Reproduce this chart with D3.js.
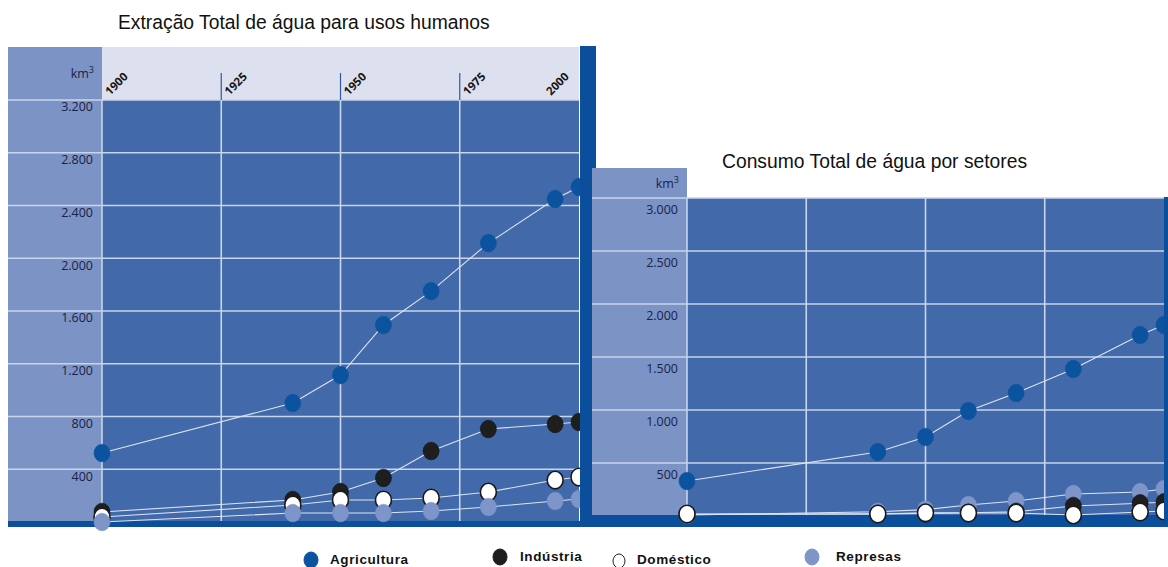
<!DOCTYPE html>
<html><head><meta charset="utf-8">
<script src="https://cdn.jsdelivr.net/npm/d3@7/dist/d3.min.js"></script>
<style>
html,body{margin:0;padding:0;background:#fff;}
svg{display:block;}
</style></head>
<body>
<svg id="c" width="1168" height="567"></svg>
<script>
// ---------- DATA ----------
const years = [1900, 1940, 1950, 1959, 1969, 1981, 1995, 2000];
const xTicks = [1900, 1925, 1950, 1975, 2000];

// Extração total (km3)
const extAgricultura = [523, 902, 1114, 1494, 1751, 2115, 2449, 2540];
const extIndustria   = [76, 167, 227, 334, 538, 705, 743, 758];
const extDomestico   = [38, 129, 167, 167, 182, 227, 318, 341];
const extRepresas    = [0, 68, 68, 68, 83, 114, 159, 174];
const extTicks = [400, 800, 1200, 1600, 2000, 2400, 2800, 3200];

// Consumo total (km3)
const conAgricultura = [330, 604, 745, 991, 1160, 1387, 1708, 1802];
const conIndustria   = [15, 20, 25, 30, 40, 95, 120, 130];
const conDomestico   = [19, 19, 30, 28, 28, 10, 38, 47];
const conRepresas    = [10, 40, 60, 104, 142, 208, 226, 255];
const conTicks = [500, 1000, 1500, 2000, 2500, 3000];

const seriesNames = ["Agricultura", "Indústria", "Doméstico", "Represas"];
const titles = ["Extração Total de água para usos humanos", "Consumo Total de água por setores"];

// ---------- STYLE ----------
const C = {
  plot: "#4269a9", panel: "#7b93c5", header: "#dde0ee", dark: "#0b4f9c",
  grid: "#c9d5ea", line: "#dce4f1", text: "#1b2246",
  agri: "#0b539f", ind: "#1e1e1e", dom: "#ffffff", rep: "#7d95c9"
};
const fillOf = {"Agricultura": C.agri, "Indústria": C.ind, "Doméstico": C.dom, "Represas": C.rep};
const strokeOf = {"Agricultura": C.agri, "Indústria": "#111", "Doméstico": "#1a1a1a", "Represas": C.rep};

const loc = d3.formatLocale({decimal: ",", thousands: ".", grouping: [3], currency: ["", ""]});
const fmt = loc.format(",d");

const svg = d3.select("#c");

function drawChart(cfg) {
  const g = svg.append("g");
  const x = d3.scaleLinear().domain([1900, 2000]).range([cfg.x0, cfg.x1]);
  const y = d3.scaleLinear().domain([0, cfg.yMax]).range([cfg.y0, cfg.y1]);

  // panels
  g.append("rect").attr("x", cfg.panelX).attr("y", cfg.panelTop)
    .attr("width", cfg.x0 - cfg.panelX).attr("height", cfg.y0 - cfg.panelTop).attr("fill", C.panel);
  if (cfg.header) {
    g.append("rect").attr("x", cfg.x0).attr("y", cfg.panelTop)
      .attr("width", cfg.x1 - cfg.x0).attr("height", cfg.y1 - cfg.panelTop).attr("fill", C.header);
  }
  g.append("rect").attr("x", cfg.x0).attr("y", cfg.y1)
    .attr("width", cfg.x1 - cfg.x0).attr("height", cfg.y0 - cfg.y1).attr("fill", C.plot);

  // horizontal gridlines (extend across the panel)
  g.append("g").selectAll("line").data([0].concat(cfg.ticks)).join("line")
    .attr("x1", d => d === 0 ? cfg.x0 : cfg.panelX).attr("x2", cfg.x1)
    .attr("y1", d => y(d)).attr("y2", d => y(d))
    .attr("stroke", C.grid).attr("stroke-width", 1.6);

  // vertical gridlines
  g.append("g").selectAll("line").data(xTicks.slice(0, 4)).join("line")
    .attr("x1", d => x(d)).attr("x2", d => x(d))
    .attr("y1", cfg.y1).attr("y2", cfg.y0)
    .attr("stroke", C.grid).attr("stroke-width", 1.6);

  // y labels
  g.append("g").selectAll("text").data(cfg.ticks).join("text")
    .attr("x", cfg.x0 - 9).attr("y", d => y(d) + cfg.labelDy)
    .attr("text-anchor", "end").attr("dominant-baseline", "middle")
    .attr("font-family", "Open Sans, sans-serif").attr("font-size", 12.5)
    .attr("fill", C.text).text(d => fmt(d));

  const km = g.append("text").attr("x", cfg.x0 - 8).attr("y", cfg.kmY)
    .attr("text-anchor", "end").attr("font-family", "Open Sans, sans-serif")
    .attr("font-size", 12.5).attr("fill", C.text).text("km");
  km.append("tspan").attr("font-size", 9).attr("dy", -5).text("3");

  // header ticks + rotated year labels
  if (cfg.header) {
    g.append("g").selectAll("line").data(xTicks.slice(1, 4)).join("line")
      .attr("x1", d => x(d)).attr("x2", d => x(d))
      .attr("y1", cfg.y1 - 27).attr("y2", cfg.y1)
      .attr("stroke", "#2b5aa0").attr("stroke-width", 1.2);
    g.append("g").selectAll("text").data(xTicks).join("text")
      .attr("transform", (d, i) => `translate(${x(d) + (i === xTicks.length - 1 ? -28 : 8)},${cfg.y1 - 4}) rotate(-45)`)
      .attr("font-family", "Open Sans, sans-serif").attr("font-weight", "bold")
      .attr("font-size", 11.5).attr("fill", "#151515").text(d => d);
  }

  // title
  g.append("text").attr("x", cfg.titleX).attr("y", cfg.titleY)
    .attr("font-family", "Liberation Sans, Arial, sans-serif").attr("font-size", 19.3)
    .attr("fill", "#111").text(cfg.title);

  // bottom strip
  g.append("rect").attr("x", cfg.panelX).attr("y", cfg.y0 - 1)
    .attr("width", cfg.stripW).attr("height", 527 - cfg.y0 + 1).attr("fill", C.dark);

  if (cfg.after) cfg.after();

  // series
  const line = d3.line().x((d, i) => x(years[i])).y(d => y(d));
  cfg.order.forEach(name => {
    const vals = cfg.data[name];
    g.append("path").datum(vals).attr("d", line)
      .attr("fill", "none").attr("stroke", C.line).attr("stroke-width", 1.1);
  });
  cfg.order.forEach(name => {
    const vals = cfg.data[name];
    g.append("g").selectAll("ellipse").data(vals).join("ellipse")
      .attr("cx", (d, i) => x(years[i])).attr("cy", d => y(d))
      .attr("rx", 8).attr("ry", 8.8)
      .attr("fill", fillOf[name])
      .attr("stroke", strokeOf[name]).attr("stroke-width", name === "Doméstico" ? 1.6 : 0.6);
  });
}

// left chart
drawChart({
  x0: 102, x1: 579, y0: 522, y1: 100, yMax: 3200, panelX: 8, panelTop: 47,
  header: true, ticks: extTicks, labelDy: 8, kmY: 78,
  title: titles[0], titleX: 118, titleY: 29, stripW: 588,
  data: {"Agricultura": extAgricultura, "Indústria": extIndustria, "Doméstico": extDomestico, "Represas": extRepresas},
  order: ["Agricultura", "Indústria", "Doméstico", "Represas"],
  after: () => {
    svg.append("rect").attr("x", 580).attr("y", 46).attr("width", 16).attr("height", 481).attr("fill", C.dark);
  }
});

// right chart
drawChart({
  x0: 687, x1: 1164, y0: 516, y1: 198, yMax: 3000, panelX: 592, panelTop: 168,
  header: false, ticks: conTicks, labelDy: 13, kmY: 188,
  title: titles[1], titleX: 722, titleY: 168, stripW: 576,
  data: {"Agricultura": conAgricultura, "Indústria": conIndustria, "Doméstico": conDomestico, "Represas": conRepresas},
  order: ["Agricultura", "Represas", "Indústria", "Doméstico"],
  after: () => {
    svg.append("rect").attr("x", 1164).attr("y", 197).attr("width", 4).attr("height", 330).attr("fill", C.dark);
  }
});

// legend
const legendPos = [
  {name: "Agricultura", cx: 311, cy: 560, tx: 330, ty: 564},
  {name: "Indústria", cx: 500, cy: 557, tx: 520, ty: 561},
  {name: "Doméstico", cx: 619, cy: 561, tx: 637, ty: 564},
  {name: "Represas", cx: 812, cy: 557, tx: 836, ty: 561}
];
const lg = svg.append("g");
lg.selectAll("ellipse").data(legendPos).join("ellipse")
  .attr("cx", d => d.cx).attr("cy", d => d.cy)
  .attr("rx", d => d.name === "Doméstico" ? 6 : 7).attr("ry", d => d.name === "Doméstico" ? 7 : 8)
  .attr("fill", d => fillOf[d.name])
  .attr("stroke", d => d.name === "Doméstico" ? "#222" : fillOf[d.name]).attr("stroke-width", 1);
lg.selectAll("text").data(legendPos).join("text")
  .attr("x", d => d.tx).attr("y", d => d.ty)
  .attr("font-family", "Liberation Sans, Arial, sans-serif").attr("font-weight", "bold")
  .attr("font-size", 13.5).attr("letter-spacing", 0.6).attr("fill", "#111").text((d, i) => seriesNames[i]);
</script>
</body></html>
